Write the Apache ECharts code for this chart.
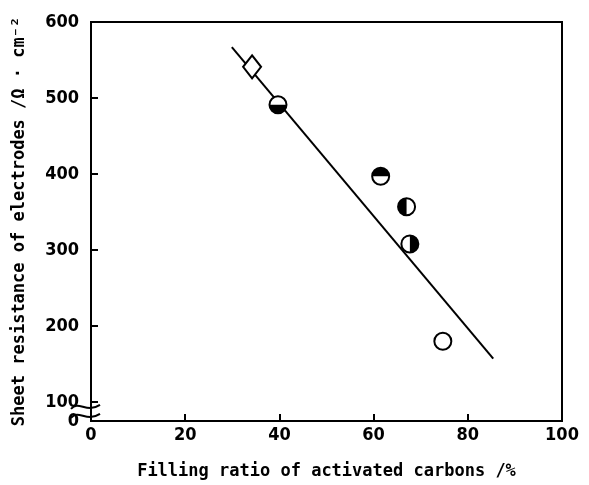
<!DOCTYPE html>
<html>
<head>
<meta charset="utf-8">
<script src="https://cdn.jsdelivr.net/npm/echarts@6/dist/echarts.min.js"></script>
<style>
html, body { margin: 0; padding: 0; background: #fff; }
#main { width: 589px; height: 485px; }
</style>
</head>
<body>
<div id="main"></div>
<script>
// 数据
var circX = [39.7, 61.5, 67.0, 67.7, 74.7];
var circY = [491, 397, 357, 308, 180];
var circFill = ['bottom', 'top', 'left', 'right', 'none'];

var diamondX = [34.2];
var diamondY = [541];

var fitX = [29.9, 85.4];
var fitY = [567, 157];

var xTicks = [0, 20, 40, 60, 80, 100];
var yTicks = [100, 200, 300, 400, 500, 600];
var yBottom = 75;   // 断轴下方的 "0"

var labelFont = '"DejaVu Sans Condensed", "DejaVu Sans", sans-serif';
var titleFont = '"DejaVu Sans Mono", "Liberation Mono", monospace';

function zip(xs, ys) {
	return xs.map(function (x, i) { return [x, ys[i]]; });
}

// 半填充圆
var halves = {
	bottom: [0, Math.PI],
	top: [Math.PI, 2 * Math.PI],
	left: [Math.PI / 2, 3 * Math.PI / 2],
	right: [-Math.PI / 2, Math.PI / 2]
};

function renderCircle(params, api) {
	var p = api.coord([api.value(0), api.value(1)]);
	var r = 8.5;
	var kids = [{
		type: 'circle',
		shape: { cx: p[0], cy: p[1], r: r },
		style: { fill: '#fff', stroke: '#000', lineWidth: 2 }
	}];
	var h = halves[circFill[params.dataIndex]];
	if (h) {
		kids.push({
			type: 'sector',
			shape: { cx: p[0], cy: p[1], r: r, r0: 0, startAngle: h[0], endAngle: h[1], clockwise: true },
			style: { fill: '#000' }
		});
	}
	return { type: 'group', children: kids };
}

var option = {
	animation: false,
	grid: {
		left: 91, right: 27, top: 22, bottom: 62,
		show: true, borderColor: '#000', borderWidth: 2
	},
	xAxis: {
		type: 'value', min: 0, max: 100, interval: 20,
		name: 'Filling ratio of activated carbons /%',
		nameLocation: 'middle', nameGap: 42,
		nameTextStyle: { fontFamily: titleFont, fontSize: 17, fontWeight: 'bold', color: '#000' },
		axisLine: { lineStyle: { color: '#000', width: 2 } },
		axisTick: { inside: true, length: 7, lineStyle: { color: '#000', width: 2 } },
		axisLabel: { fontFamily: labelFont, fontSize: 18, fontWeight: 'bold', color: '#000', margin: 5 },
		splitLine: { show: false }
	},
	yAxis: {
		type: 'value', min: yBottom, max: 600,
		name: 'Sheet resistance of electrodes /Ω · cm⁻²',
		nameLocation: 'middle', nameGap: 63,
		nameTextStyle: { fontFamily: titleFont, fontSize: 17, fontWeight: 'bold', color: '#000' },
		axisLine: { lineStyle: { color: '#000', width: 2 } },
		axisTick: { inside: true, length: 7, customValues: yTicks, lineStyle: { color: '#000', width: 2 } },
		axisLabel: {
			fontFamily: labelFont, fontSize: 18, fontWeight: 'bold', color: '#000', margin: 12,
			customValues: [yBottom].concat(yTicks),
			formatter: function (v) { return v === yBottom ? '0' : String(v); }
		},
		splitLine: { show: false }
	},
	series: [{
		type: 'line',
		data: zip(fitX, fitY),
		symbol: 'none',
		lineStyle: { color: '#000', width: 2 },
		z: 1
	}, {
		type: 'scatter',
		data: zip(diamondX, diamondY),
		symbol: 'diamond',
		symbolSize: [18, 23],
		itemStyle: { color: '#fff', borderColor: '#000', borderWidth: 2, opacity: 1 },
		z: 3
	}, {
		type: 'custom',
		data: zip(circX, circY),
		renderItem: renderCircle,
		z: 3
	}]
};

var chart = echarts.init(document.getElementById('main'));
chart.setOption(option);

// 断轴记号
var ax = chart.convertToPixel({ xAxisIndex: 0 }, 0);
var yb = chart.convertToPixel({ yAxisIndex: 0 }, 87);
function wave(dy) {
	var y0 = yb + dy;
	return {
		type: 'bezierCurve',
		shape: { x1: ax - 20, y1: y0 + 2, cpx1: ax - 12, cpy1: y0 - 7, cpx2: ax - 5, cpy2: y0 + 7, x2: ax + 9, y2: y0 - 2 },
		style: { stroke: '#000', lineWidth: 2, fill: null },
		z: 10
	};
}
chart.setOption({ graphic: [wave(-5), wave(4)] });
</script>
</body>
</html>
